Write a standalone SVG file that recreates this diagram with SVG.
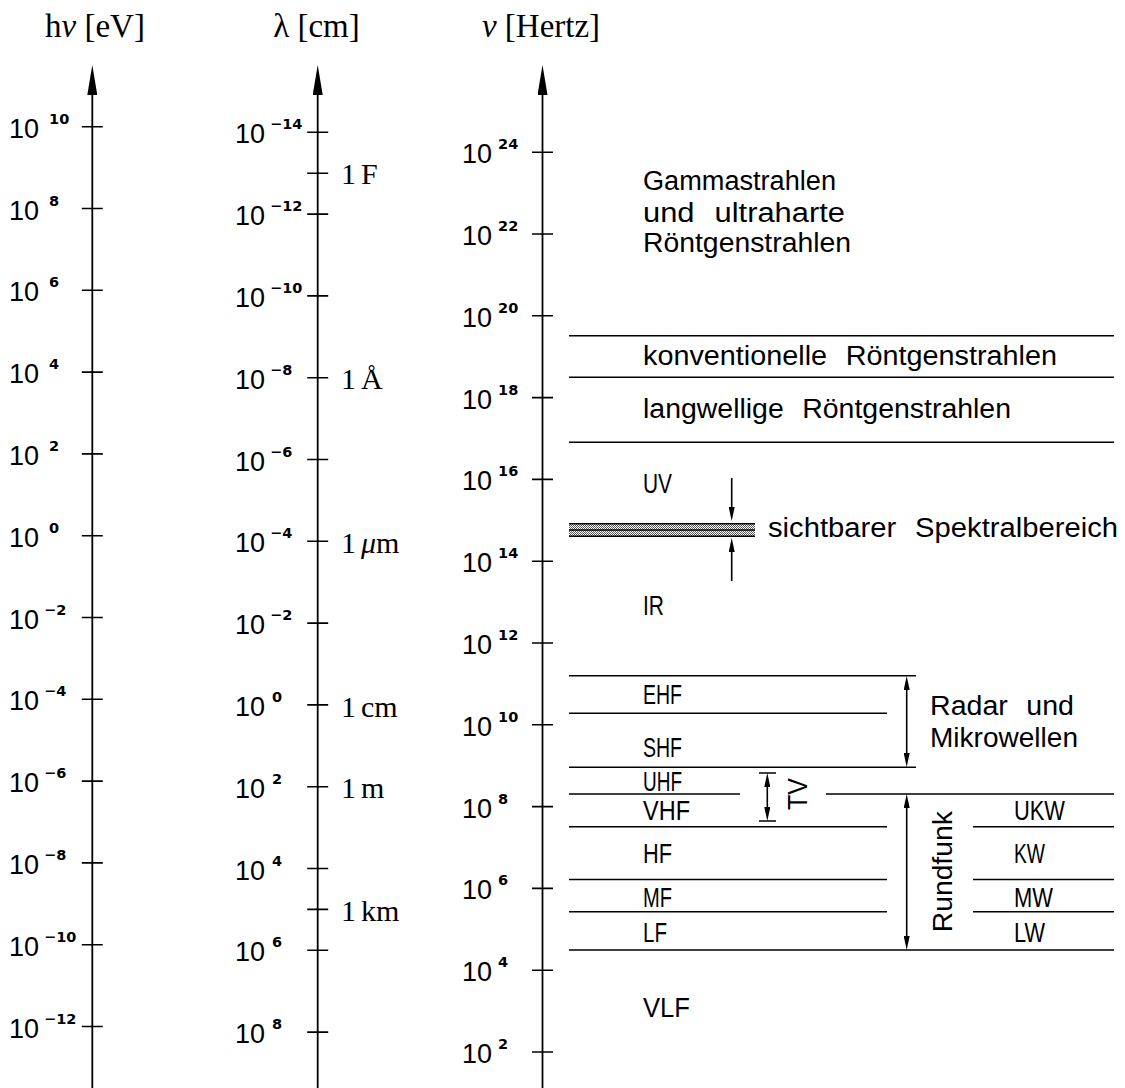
<svg xmlns="http://www.w3.org/2000/svg" width="1125" height="1088" viewBox="0 0 1125 1088">
  <style>
    .ax { stroke: #000; stroke-width: 1.8; fill: none; }
    .tk { stroke: #000; stroke-width: 1.6; fill: none; }
    .ln { stroke: #000; stroke-width: 1.6; fill: none; }
    .n { font-family: "Liberation Sans", Arial, sans-serif; font-size: 27px; fill: #000; }
    .e { font-family: "DejaVu Sans", sans-serif; font-weight: bold; font-size: 14.5px; }
    .hd { font-family: "Liberation Serif", "Times New Roman", serif; font-size: 33px; fill: #000; }
    .u { font-family: "Liberation Serif", "Times New Roman", serif; font-size: 30px; fill: #000; }
    .lb { font-family: "Liberation Sans", Arial, sans-serif; font-size: 27px; fill: #000; word-spacing: 10px; }
    .it { font-style: italic; }
  </style>
  <defs>
    <marker id="axhead" viewBox="0 0 30 10" markerWidth="30" markerHeight="10" refX="0" refY="5" orient="auto" markerUnits="userSpaceOnUse">
      <path d="M0,0 L30,5 L0,10 z" fill="#000"/>
    </marker>
    <marker id="sa" viewBox="0 0 14 6" markerWidth="14" markerHeight="6" refX="0" refY="3" orient="auto-start-reverse" markerUnits="userSpaceOnUse">
      <path d="M0,0 L14,3 L0,6 z" fill="#000"/>
    </marker>
    <pattern id="hatch" width="2" height="2" patternUnits="userSpaceOnUse">
      <rect width="2" height="2" fill="#fff"/>
      <rect width="1" height="1" fill="#555"/>
      <rect x="1" y="1" width="1" height="1" fill="#555"/>
    </pattern>
  </defs>

  <!-- column headings -->
  <g id="headings">
    <text class="hd" x="95" y="37" text-anchor="middle">h<tspan class="it">ν</tspan> [eV]</text>
    <text class="hd" x="316.5" y="37" text-anchor="middle">λ [cm]</text>
    <text class="hd" x="541" y="37" text-anchor="middle"><tspan class="it">ν</tspan> [Hertz]</text>
  </g>

  <!-- photon energy axis -->
  <g id="axis-energy">
    <line class="ax" x1="92.3" y1="1088" x2="92.3" y2="95" marker-end="url(#axhead)"/>
    <path class="tk" d="M81.8,126.7h21 M81.8,208.5h21 M81.8,290.3h21 M81.8,372.1h21 M81.8,453.9h21 M81.8,535.7h21 M81.8,617.5h21 M81.8,699.3h21 M81.8,781.1h21 M81.8,862.9h21 M81.8,944.7h21 M81.8,1026.5h21"/>
    <text class="n" x="9" y="137.7">10<tspan class="e" dx="10" dy="-14">10</tspan></text>
    <text class="n" x="9" y="219.5">10<tspan class="e" dx="10" dy="-14">8</tspan></text>
    <text class="n" x="9" y="301.3">10<tspan class="e" dx="10" dy="-14">6</tspan></text>
    <text class="n" x="9" y="383.1">10<tspan class="e" dx="10" dy="-14">4</tspan></text>
    <text class="n" x="9" y="464.9">10<tspan class="e" dx="10" dy="-14">2</tspan></text>
    <text class="n" x="9" y="546.7">10<tspan class="e" dx="10" dy="-14">0</tspan></text>
    <text class="n" x="9" y="628.5">10<tspan class="e" dx="5" dy="-14">−2</tspan></text>
    <text class="n" x="9" y="710.3">10<tspan class="e" dx="5" dy="-14">−4</tspan></text>
    <text class="n" x="9" y="792.1">10<tspan class="e" dx="5" dy="-14">−6</tspan></text>
    <text class="n" x="9" y="873.9">10<tspan class="e" dx="5" dy="-14">−8</tspan></text>
    <text class="n" x="9" y="955.7">10<tspan class="e" dx="5" dy="-14">−10</tspan></text>
    <text class="n" x="9" y="1037.5">10<tspan class="e" dx="5" dy="-14">−12</tspan></text>
  </g>

  <!-- wavelength axis -->
  <g id="axis-wavelength">
    <line class="ax" x1="317.7" y1="1088" x2="317.7" y2="95" marker-end="url(#axhead)"/>
    <path class="tk" d="M307.2,132.3h21 M307.2,173.2h21 M307.2,214.1h21 M307.2,295.9h21 M307.2,377.7h21 M307.2,459.5h21 M307.2,541.3h21 M307.2,623.1h21 M307.2,704.9h21 M307.2,786.7h21 M307.2,868.5h21 M307.2,909.4h21 M307.2,950.3h21 M307.2,1032.1h21"/>
    <text class="n" x="235" y="143.3">10<tspan class="e" dx="5" dy="-14">−14</tspan></text>
    <text class="n" x="235" y="225.1">10<tspan class="e" dx="5" dy="-14">−12</tspan></text>
    <text class="n" x="235" y="306.9">10<tspan class="e" dx="5" dy="-14">−10</tspan></text>
    <text class="n" x="235" y="388.7">10<tspan class="e" dx="5" dy="-14">−8</tspan></text>
    <text class="n" x="235" y="470.5">10<tspan class="e" dx="5" dy="-14">−6</tspan></text>
    <text class="n" x="235" y="552.3">10<tspan class="e" dx="5" dy="-14">−4</tspan></text>
    <text class="n" x="235" y="634.1">10<tspan class="e" dx="5" dy="-14">−2</tspan></text>
    <text class="n" x="235" y="715.9">10<tspan class="e" dx="7" dy="-14">0</tspan></text>
    <text class="n" x="235" y="797.7">10<tspan class="e" dx="7" dy="-14">2</tspan></text>
    <text class="n" x="235" y="879.5">10<tspan class="e" dx="7" dy="-14">4</tspan></text>
    <text class="n" x="235" y="961.3">10<tspan class="e" dx="7" dy="-14">6</tspan></text>
    <text class="n" x="235" y="1043.1">10<tspan class="e" dx="7" dy="-14">8</tspan></text>
    <text class="u" x="341" y="183.5">1<tspan dx="5">F</tspan></text>
    <text class="u" x="341" y="388.7">1<tspan dx="5">Å</tspan></text>
    <text class="u" x="341" y="553">1<tspan dx="5" class="it">μ</tspan>m</text>
    <text class="u" x="341" y="716.5">1<tspan dx="5">cm</tspan></text>
    <text class="u" x="341" y="798.3">1<tspan dx="5">m</tspan></text>
    <text class="u" x="341" y="921">1<tspan dx="5">km</tspan></text>
  </g>

  <!-- frequency axis -->
  <g id="axis-frequency">
    <line class="ax" x1="542.5" y1="1088" x2="542.5" y2="95" marker-end="url(#axhead)"/>
    <path class="tk" d="M532,152.2h21 M532,234h21 M532,315.8h21 M532,397.6h21 M532,479.4h21 M532,561.2h21 M532,643h21 M532,724.8h21 M532,806.6h21 M532,888.4h21 M532,970.2h21 M532,1052h21"/>
    <text class="n" x="462" y="163.2">10<tspan class="e" dx="6" dy="-14">24</tspan></text>
    <text class="n" x="462" y="245">10<tspan class="e" dx="6" dy="-14">22</tspan></text>
    <text class="n" x="462" y="326.8">10<tspan class="e" dx="6" dy="-14">20</tspan></text>
    <text class="n" x="462" y="408.6">10<tspan class="e" dx="6" dy="-14">18</tspan></text>
    <text class="n" x="462" y="490.4">10<tspan class="e" dx="6" dy="-14">16</tspan></text>
    <text class="n" x="462" y="572.2">10<tspan class="e" dx="6" dy="-14">14</tspan></text>
    <text class="n" x="462" y="654">10<tspan class="e" dx="6" dy="-14">12</tspan></text>
    <text class="n" x="462" y="735.8">10<tspan class="e" dx="6" dy="-14">10</tspan></text>
    <text class="n" x="462" y="817.6">10<tspan class="e" dx="6" dy="-14">8</tspan></text>
    <text class="n" x="462" y="899.4">10<tspan class="e" dx="6" dy="-14">6</tspan></text>
    <text class="n" x="462" y="981.2">10<tspan class="e" dx="6" dy="-14">4</tspan></text>
    <text class="n" x="462" y="1063">10<tspan class="e" dx="6" dy="-14">2</tspan></text>
  </g>

  <!-- band boundaries -->
  <g id="band-lines">
    <path class="ln" d="M569,335.7H1114 M569,377.3H1114 M569,442.3H1114
                        M569,675.7H916 M569,713.3H887 M569,767.3H916
                        M569,794H740 M826,794H1114
                        M569,826.7H887 M973,826.7H1114
                        M569,879.5H887 M973,879.5H1114
                        M569,911.7H887 M973,911.7H1114
                        M569,950H1114"/>
    <!-- visible range -->
    <rect x="569" y="523" width="186" height="14" fill="url(#hatch)"/>
    <path d="M569,523.7H755 M569,530H755 M569,536.3H755" stroke="#000" stroke-width="1.5"/>
  </g>

  <!-- range markers -->
  <g id="connectors">
    <line class="ln" x1="731.7" y1="478" x2="731.7" y2="507" marker-end="url(#sa)"/>
    <line class="ln" x1="731.7" y1="581" x2="731.7" y2="552" marker-end="url(#sa)"/>
    <line class="ln" x1="906.7" y1="690" x2="906.7" y2="753" marker-start="url(#sa)" marker-end="url(#sa)"/>
    <path class="ln" d="M759,773H776 M759,821H776"/>
    <line class="ln" x1="767.3" y1="787" x2="767.3" y2="807" marker-start="url(#sa)" marker-end="url(#sa)"/>
    <line class="ln" x1="906.7" y1="808" x2="906.7" y2="936" marker-start="url(#sa)" marker-end="url(#sa)"/>
  </g>

  <!-- region names -->
  <g id="label-gamma">
    <text class="lb" x="643" y="190" textLength="193" lengthAdjust="spacingAndGlyphs">Gammastrahlen</text>
    <text class="lb" x="643" y="221.7" textLength="202" lengthAdjust="spacingAndGlyphs">und ultraharte</text>
    <text class="lb" x="643" y="251.7" textLength="208" lengthAdjust="spacingAndGlyphs">Röntgenstrahlen</text>
  </g>
  <g id="label-xray"><text class="lb" x="643" y="365" textLength="414" lengthAdjust="spacingAndGlyphs">konventionelle Röntgenstrahlen</text></g>
  <g id="label-softxray"><text class="lb" x="643" y="418" textLength="368" lengthAdjust="spacingAndGlyphs">langwellige Röntgenstrahlen</text></g>
  <g id="label-uv"><text class="lb" x="643" y="492.5" textLength="29" lengthAdjust="spacingAndGlyphs">UV</text></g>
  <g id="label-visible"><text class="lb" x="768" y="537" textLength="350" lengthAdjust="spacingAndGlyphs">sichtbarer Spektralbereich</text></g>
  <g id="label-ir"><text class="lb" x="643" y="615" textLength="21" lengthAdjust="spacingAndGlyphs">IR</text></g>
  <g id="label-ehf"><text class="lb" x="643" y="704" textLength="39" lengthAdjust="spacingAndGlyphs">EHF</text></g>
  <g id="label-shf"><text class="lb" x="643" y="756.5" textLength="39" lengthAdjust="spacingAndGlyphs">SHF</text></g>
  <g id="label-radar">
    <text class="lb" x="930" y="715" textLength="144" lengthAdjust="spacingAndGlyphs">Radar und</text>
    <text class="lb" x="930" y="747.3" textLength="148" lengthAdjust="spacingAndGlyphs">Mikrowellen</text>
  </g>
  <g id="label-uhf"><text class="lb" x="643" y="790.5" textLength="39" lengthAdjust="spacingAndGlyphs">UHF</text></g>
  <g id="label-vhf"><text class="lb" x="643" y="819.5" textLength="47" lengthAdjust="spacingAndGlyphs">VHF</text></g>
  <g id="label-tv"><text class="lb" transform="translate(806.5,794) rotate(-90)" text-anchor="middle" textLength="32" lengthAdjust="spacingAndGlyphs">TV</text></g>
  <g id="label-hf"><text class="lb" x="643" y="863.3" textLength="29" lengthAdjust="spacingAndGlyphs">HF</text></g>
  <g id="label-mf"><text class="lb" x="643" y="906.5" textLength="29" lengthAdjust="spacingAndGlyphs">MF</text></g>
  <g id="label-lf"><text class="lb" x="643" y="941.5" textLength="24" lengthAdjust="spacingAndGlyphs">LF</text></g>
  <g id="label-rundfunk"><text class="lb" transform="translate(951.5,871.7) rotate(-90)" text-anchor="middle" textLength="121" lengthAdjust="spacingAndGlyphs">Rundfunk</text></g>
  <g id="label-ukw"><text class="lb" x="1014" y="820" textLength="51" lengthAdjust="spacingAndGlyphs">UKW</text></g>
  <g id="label-kw"><text class="lb" x="1014" y="863.3" textLength="31" lengthAdjust="spacingAndGlyphs">KW</text></g>
  <g id="label-mw"><text class="lb" x="1014" y="906.5" textLength="39" lengthAdjust="spacingAndGlyphs">MW</text></g>
  <g id="label-lw"><text class="lb" x="1014" y="941.5" textLength="31" lengthAdjust="spacingAndGlyphs">LW</text></g>
  <g id="label-vlf"><text class="lb" x="643" y="1017" textLength="47" lengthAdjust="spacingAndGlyphs">VLF</text></g>
</svg>
